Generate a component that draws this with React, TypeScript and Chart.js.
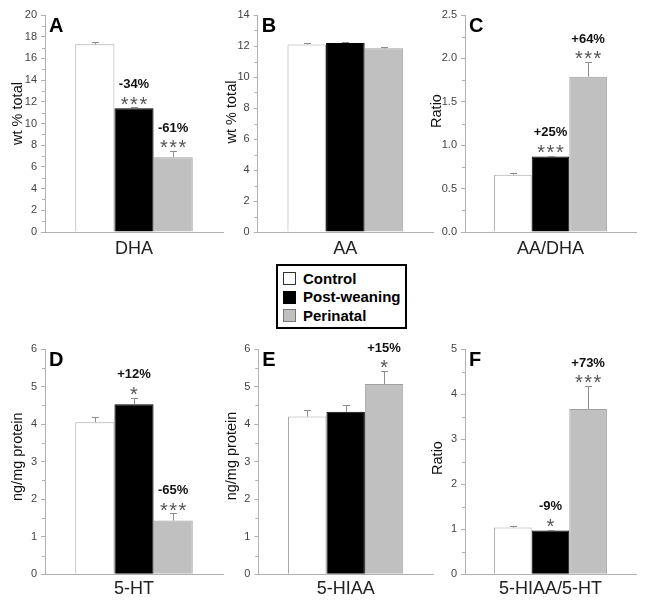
import React, { useEffect, useRef } from "react";
import { Chart, registerables } from "chart.js";
Chart.register(...registerables);

// ---------------- data ----------------
const categories = ["DHA", "AA", "AA/DHA", "5-HT", "5-HIAA", "5-HIAA/5-HT"];
const seriesNames = ["Control", "Post-weaning", "Perinatal"];
const controlValues = [17.3, 12.1, 0.66, 4.05, 4.2, 1.04];
const controlErrors = [0.2, 0.1, 0.02, 0.13, 0.17, 0.04];
const postWeaningValues = [11.4, 12.2, 0.87, 4.53, 4.33, 0.97];
const postWeaningErrors = [0.08, 0.07, 0.01, 0.17, 0.18, 0.015];
const perinatalValues = [6.9, 11.85, 1.79, 1.43, 5.07, 3.67];
const perinatalErrors = [0.55, 0.1, 0.165, 0.19, 0.34, 0.51];
const yMaxValues = [20, 14, 2.5, 6, 6, 5];
const yStepValues = [2, 2, 0.5, 1, 1, 1];
const yDecimals = [0, 0, 1, 0, 0, 0];
const yTitles = ["wt % total", "wt % total", "Ratio", "ng/mg protein", "ng/mg protein", "Ratio"];
const panelLetters = ["A", "B", "C", "D", "E", "F"];
const changeLabels = [
  ["", "-34%", "-61%"],
  ["", "", ""],
  ["", "+25%", "+64%"],
  ["", "+12%", "-65%"],
  ["", "", "+15%"],
  ["", "-9%", "+73%"],
];
const starLabels = [
  ["", "***", "***"],
  ["", "", ""],
  ["", "***", "***"],
  ["", "*", "***"],
  ["", "", "*"],
  ["", "*", "***"],
];

// ---------------- styles / layout ----------------
const FONT = "'Liberation Sans', Arial, sans-serif";
const FILLS = ["#ffffff", "#000000", "#c0c0c0"];
const BORDERS = ["#a8a8a8", "#000000", "#a0a0a0"];
const AXIS = "#b0b0b0";

const LAYOUT = [
  { left: 0, top: 0, w: 224, h: 262, yW: 45, padTop: 15, padRight: 1, xH: 30, xPad: 6, tX: 18, tY: 113.5 },
  { left: 214, top: 0, w: 220, h: 262, yW: 43.7, padTop: 15, padRight: 1, xH: 30, xPad: 6, tX: 18, tY: 112 },
  { left: 424, top: 0, w: 221, h: 262, yW: 41, padTop: 15, padRight: 9, xH: 30, xPad: 6, tX: 12.7, tY: 111 },
  { left: 0, top: 330, w: 224, h: 276, yW: 45, padTop: 19, padRight: 1, xH: 31.7, xPad: 4, tX: 17.5, tY: 126.7 },
  { left: 214, top: 330, w: 220, h: 276, yW: 44.3, padTop: 19, padRight: 1, xH: 31.7, xPad: 4, tX: 18, tY: 126 },
  { left: 424, top: 330, w: 221, h: 276, yW: 41, padTop: 19, padRight: 9, xH: 31.7, xPad: 4, tX: 13.7, tY: 128 },
];

const annotPlugin = {
  id: "panelAnnot",
  afterDatasetsDraw(chart: any, _args: any, opts: any) {
    const i = opts.index;
    const lay = LAYOUT[i];
    const ctx = chart.ctx;
    const ys = chart.scales.y;
    const area = chart.chartArea;
    const values = [controlValues[i], postWeaningValues[i], perinatalValues[i]];
    const errors = [controlErrors[i], postWeaningErrors[i], perinatalErrors[i]];
    ctx.save();
    // minor ticks
    ctx.strokeStyle = AXIS;
    ctx.lineWidth = 1;
    const step = yStepValues[i];
    for (let v = step / 2; v < yMaxValues[i]; v += step) {
      const py = Math.round(ys.getPixelForValue(v)) + 0.5;
      ctx.beginPath();
      ctx.moveTo(area.left - 3, py);
      ctx.lineTo(area.left, py);
      ctx.stroke();
    }
    // error bars + labels
    for (let s = 0; s < 3; s++) {
      const bar = chart.getDatasetMeta(s).data[0];
      const x = Math.round(bar.x) + 0.5;
      const yTop = ys.getPixelForValue(values[s] + errors[s]);
      ctx.strokeStyle = "#8c8c8c";
      ctx.beginPath();
      ctx.moveTo(x, bar.y);
      ctx.lineTo(x, Math.round(yTop) + 0.5);
      ctx.moveTo(x - 3.5, Math.round(yTop) + 0.5);
      ctx.lineTo(x + 3.5, Math.round(yTop) + 0.5);
      ctx.stroke();
      const star = starLabels[i][s];
      const pct = changeLabels[i][s];
      const starC = yTop - 8.5;
      ctx.textAlign = "center";
      if (star) {
        ctx.fillStyle = "#555555";
        ctx.font = `20px ${FONT}`;
        ctx.textBaseline = "alphabetic";
        (ctx as any).letterSpacing = star.length > 1 ? "1.5px" : "0px";
        ctx.fillText(star, bar.x + (star.length > 1 ? 0.75 : 0), starC + 11.6);
        (ctx as any).letterSpacing = "0px";
      }
      if (pct) {
        ctx.fillStyle = "#111111";
        ctx.font = `bold 13px ${FONT}`;
        ctx.textBaseline = "middle";
        ctx.fillText(pct, bar.x, starC - 14.5);
      }
    }
    // panel letter
    ctx.fillStyle = "#000";
    ctx.font = `bold 20px ${FONT}`;
    ctx.textAlign = "left";
    ctx.textBaseline = "alphabetic";
    ctx.fillText(panelLetters[i], area.left + 4, area.top + 2.5 + 14.3);
    // y title
    ctx.translate(lay.tX, lay.tY);
    ctx.rotate(-Math.PI / 2);
    ctx.fillStyle = "#111";
    ctx.font = `14.5px ${FONT}`;
    ctx.textAlign = "center";
    ctx.textBaseline = "middle";
    ctx.fillText(yTitles[i], 0, 0);
    ctx.restore();
  },
};

function Panel({ index }: { index: number }) {
  const ref = useRef<HTMLCanvasElement>(null);
  const lay = LAYOUT[index];
  useEffect(() => {
    if (!ref.current) return;
    const seriesValues = [controlValues, postWeaningValues, perinatalValues];
    const chart = new Chart(ref.current, {
      type: "bar",
      data: {
        labels: [categories[index]],
        datasets: seriesNames.map((name, s) => ({
          label: name,
          data: [seriesValues[s][index]],
          backgroundColor: FILLS[s],
          borderColor: BORDERS[s],
          borderWidth: 1,
          borderSkipped: "bottom" as const,
          categoryPercentage: 0.66,
          barPercentage: 1,
        })),
      },
      options: {
        responsive: false,
        devicePixelRatio: 1,
        animation: false,
        layout: { padding: { top: lay.padTop, right: lay.padRight, left: 0, bottom: 0 } },
        plugins: {
          legend: { display: false },
          tooltip: { enabled: false },
          panelAnnot: { index },
        } as any,
        scales: {
          x: {
            type: "category",
            grid: { display: false, drawTicks: false },
            border: { display: true, color: AXIS },
            ticks: { color: "#222", font: { family: FONT, size: 18 }, padding: lay.xPad },
            afterFit: (scale: any) => {
              scale.height = lay.xH;
            },
          },
          y: {
            min: 0,
            max: yMaxValues[index],
            grid: { display: true, drawOnChartArea: false, drawTicks: true, tickLength: 4, color: AXIS },
            border: { display: true, color: AXIS },
            ticks: {
              stepSize: yStepValues[index],
              color: "#444",
              padding: 4,
              font: { family: FONT, size: 11 },
              callback: (v: any) => Number(v).toFixed(yDecimals[index]),
            },
            afterFit: (scale: any) => {
              scale.width = lay.yW;
            },
          },
        },
      },
      plugins: [annotPlugin],
    });
    return () => chart.destroy();
  }, [index]);
  return (
    <canvas
      ref={ref}
      width={lay.w}
      height={lay.h}
      style={{ position: "absolute", left: lay.left, top: lay.top, width: lay.w, height: lay.h }}
    />
  );
}

function Legend() {
  const rows = [279, 297.7, 316];
  return (
    <div
      style={{
        position: "absolute",
        left: 276,
        top: 264,
        width: 131,
        height: 65,
        boxSizing: "border-box",
        border: "2.5px solid #000",
        background: "#fff",
      }}
    >
      {seriesNames.map((name, s) => (
        <React.Fragment key={name}>
          <div
            style={{
              position: "absolute",
              left: 4.5,
              top: rows[s] - 264 - 2.5 - 6.5,
              width: 13,
              height: 13,
              boxSizing: "border-box",
              background: FILLS[s],
              border: `1px solid ${s === 0 ? "#333" : s === 1 ? "#000" : "#777"}`,
            }}
          />
          <div
            style={{
              position: "absolute",
              left: 25,
              top: rows[s] - 264 - 2.5 - 9,
              height: 18,
              lineHeight: "18px",
              fontFamily: FONT,
              fontWeight: "bold",
              fontSize: 15,
              color: "#000",
              whiteSpace: "nowrap",
            }}
          >
            {name}
          </div>
        </React.Fragment>
      ))}
    </div>
  );
}

export default function App() {
  return (
    <div style={{ position: "absolute", left: 0, top: 0, width: 645, height: 606, background: "#fff" }}>
      {LAYOUT.map((_, i) => (
        <Panel key={i} index={i} />
      ))}
      <Legend />
    </div>
  );
}
